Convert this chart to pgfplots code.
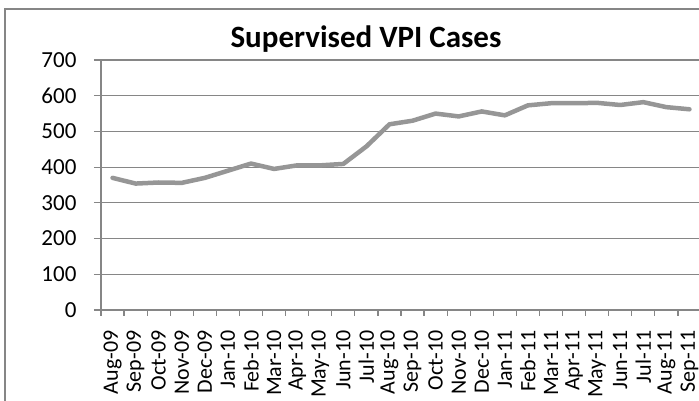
\documentclass[border=0pt]{standalone}
\usepackage{pgfplots}
\pgfplotsset{compat=1.18}
\usepackage{fontspec}
\setmainfont{Carlito}
\definecolor{gridgray}{RGB}{134,134,134}
\definecolor{linegray}{RGB}{150,150,150}
\begin{document}
\begin{tikzpicture}
\path[use as bounding box] (0,0) rectangle (699pt,401pt);
\draw[gridgray, line width=1.2pt] (5pt,-20pt) -- (5pt,392pt) -- (720pt,392pt);
\begin{axis}[
  at={(101pt,91pt)}, anchor=south west,
  scale only axis, width=600pt, height=250pt,
  xmin=-0.5, xmax=25.5, ymin=0, ymax=700,
  axis lines=left, axis line style={-, gridgray, line width=1.2pt},
  ytick={0,100,...,700},
  ymajorgrids, major grid style={gridgray, line width=1.2pt},
  xtick={0,...,25},
  xticklabels={Aug-09,Sep-09,Oct-09,Nov-09,Dec-09,Jan-10,Feb-10,Mar-10,Apr-10,May-10,Jun-10,Jul-10,Aug-10,Sep-10,Oct-10,Nov-10,Dec-10,Jan-11,Feb-11,Mar-11,Apr-11,May-11,Jun-11,Jul-11,Aug-11,Sep-11},
  minor xtick={-0.5,0.5,...,25.5},
  tick align=outside,
  x tick style={draw=none},
  minor x tick style={draw=gridgray, line width=1.2pt},
  minor tick length=6pt,
  y tick style={gridgray, line width=1.2pt},
  major tick length=7pt,
  xticklabel style={rotate=90, anchor=east, font=\fontsize{22}{26}\selectfont, xshift=-10pt},
  yticklabel style={font=\fontsize{23}{27}\selectfont, xshift=-14pt},
  /pgf/number format/assume math mode=true,
  clip=false,
]
\addplot[linegray, line width=4.5pt, line join=round, line cap=round] coordinates {
(0,370) (1,354) (2,357) (3,356) (4,370) (5,390) (6,410) (7,395) (8,405) (9,405)
(10,409) (11,458) (12,520) (13,530) (14,550) (15,542) (16,556) (17,545) (18,573)
(19,579) (20,579) (21,580) (22,574) (23,582) (24,568) (25,562)
};
\end{axis}
\node[anchor=base, font=\fontsize{31}{36}\selectfont\bfseries] at (366pt,353pt) {Supervised VPI Cases};
\end{tikzpicture}
\end{document}
